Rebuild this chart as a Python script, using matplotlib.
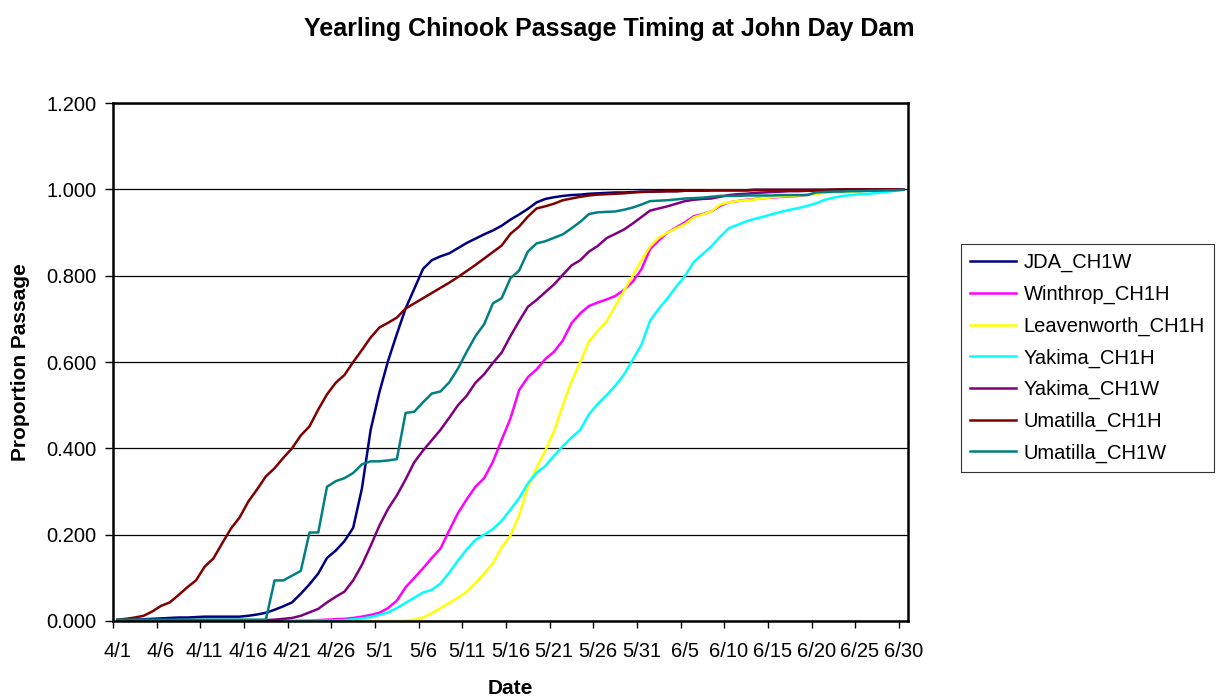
import numpy as np
import pandas as pd
import matplotlib
matplotlib.use('Agg')
import matplotlib.pyplot as plt

plt.rcParams['font.family'] = ['Liberation Sans', 'DejaVu Sans']

# ==========================================
# DATA (daily cumulative proportion, 4/1 - 6/30)
# ==========================================
dates = pd.date_range('2000-04-01', '2000-06-30', freq='D')
date_labels = [f"{d.month}/{d.day}" for d in dates]

jda_ch1w = [
    0.001, 0.002, 0.003, 0.004, 0.005, 0.006, 0.007, 0.008, 0.008, 0.009,
    0.010, 0.010, 0.010, 0.010, 0.010, 0.012, 0.015, 0.019, 0.026, 0.034,
    0.043, 0.063, 0.085, 0.110, 0.146, 0.163, 0.185, 0.216, 0.307, 0.443,
    0.530, 0.603, 0.665, 0.724, 0.770, 0.816, 0.836, 0.845, 0.852, 0.864,
    0.876, 0.886, 0.896, 0.905, 0.916, 0.930, 0.942, 0.955, 0.970, 0.978,
    0.982, 0.985, 0.987, 0.988, 0.990, 0.991, 0.992, 0.993, 0.993, 0.994,
    0.995, 0.995, 0.996, 0.996, 0.996, 0.997, 0.997, 0.997, 0.998, 0.998,
    0.998, 0.998, 0.998, 0.999, 0.999, 0.999, 0.999, 0.999, 0.999, 0.999,
    0.999, 0.999, 0.999, 1.000, 1.000, 1.000, 1.000, 1.000, 1.000, 1.000, 1.000]

winthrop_ch1h = [
    0.000, 0.000, 0.000, 0.000, 0.000, 0.000, 0.000, 0.000, 0.000, 0.000,
    0.000, 0.000, 0.000, 0.000, 0.000, 0.000, 0.000, 0.000, 0.000, 0.000,
    0.000, 0.001, 0.001, 0.002, 0.003, 0.004, 0.005, 0.007, 0.010, 0.014,
    0.019, 0.030, 0.047, 0.078, 0.100, 0.122, 0.146, 0.168, 0.210, 0.250,
    0.282, 0.311, 0.331, 0.369, 0.420, 0.469, 0.535, 0.565, 0.583, 0.607,
    0.624, 0.650, 0.690, 0.713, 0.730, 0.738, 0.745, 0.753, 0.767, 0.786,
    0.815, 0.862, 0.882, 0.900, 0.912, 0.924, 0.938, 0.943, 0.949, 0.962,
    0.970, 0.973, 0.976, 0.978, 0.980, 0.981, 0.983, 0.984, 0.985, 0.988,
    0.991, 0.993, 0.994, 0.995, 0.996, 0.997, 0.998, 0.998, 0.999, 0.999, 1.000]

leavenworth_ch1h = [
    0.000, 0.000, 0.000, 0.000, 0.000, 0.000, 0.000, 0.000, 0.000, 0.000,
    0.000, 0.000, 0.000, 0.000, 0.000, 0.000, 0.000, 0.000, 0.000, 0.000,
    0.000, 0.000, 0.000, 0.000, 0.000, 0.000, 0.000, 0.000, 0.000, 0.000,
    0.000, 0.000, 0.000, 0.001, 0.003, 0.008, 0.018, 0.030, 0.042, 0.054,
    0.068, 0.088, 0.110, 0.134, 0.170, 0.198, 0.245, 0.310, 0.355, 0.395,
    0.440, 0.500, 0.555, 0.600, 0.648, 0.672, 0.694, 0.730, 0.765, 0.800,
    0.836, 0.868, 0.888, 0.900, 0.910, 0.920, 0.935, 0.942, 0.949, 0.965,
    0.970, 0.973, 0.975, 0.977, 0.980, 0.982, 0.984, 0.985, 0.986, 0.988,
    0.990, 0.992, 0.993, 0.994, 0.995, 0.996, 0.997, 0.998, 0.998, 0.999, 1.000]

yakima_ch1h = [
    0.000, 0.000, 0.000, 0.000, 0.000, 0.000, 0.000, 0.000, 0.000, 0.000,
    0.000, 0.000, 0.000, 0.000, 0.000, 0.000, 0.000, 0.000, 0.000, 0.000,
    0.000, 0.000, 0.000, 0.000, 0.000, 0.001, 0.002, 0.004, 0.006, 0.009,
    0.014, 0.020, 0.030, 0.042, 0.054, 0.066, 0.072, 0.087, 0.112, 0.140,
    0.166, 0.188, 0.200, 0.213, 0.232, 0.258, 0.285, 0.319, 0.343, 0.359,
    0.383, 0.405, 0.425, 0.443, 0.479, 0.503, 0.523, 0.545, 0.571, 0.605,
    0.640, 0.696, 0.724, 0.748, 0.775, 0.800, 0.832, 0.850, 0.868, 0.890,
    0.910, 0.918, 0.926, 0.932, 0.937, 0.943, 0.948, 0.953, 0.957, 0.962,
    0.968, 0.976, 0.981, 0.985, 0.987, 0.989, 0.990, 0.992, 0.994, 0.997, 1.000]

yakima_ch1w = [
    0.000, 0.000, 0.000, 0.000, 0.000, 0.000, 0.000, 0.000, 0.000, 0.000,
    0.000, 0.000, 0.001, 0.001, 0.001, 0.001, 0.001, 0.002, 0.003, 0.005,
    0.007, 0.012, 0.020, 0.028, 0.043, 0.056, 0.068, 0.094, 0.130, 0.174,
    0.221, 0.260, 0.291, 0.328, 0.368, 0.395, 0.419, 0.443, 0.471, 0.500,
    0.522, 0.552, 0.572, 0.598, 0.622, 0.660, 0.695, 0.728, 0.744, 0.762,
    0.780, 0.802, 0.824, 0.836, 0.856, 0.869, 0.887, 0.897, 0.907, 0.921,
    0.936, 0.951, 0.956, 0.961, 0.967, 0.973, 0.976, 0.978, 0.979, 0.983,
    0.987, 0.989, 0.990, 0.992, 0.993, 0.994, 0.995, 0.996, 0.996, 0.997,
    0.997, 0.998, 0.998, 0.998, 0.999, 0.999, 0.999, 1.000, 1.000, 1.000, 1.000]

umatilla_ch1h = [
    0.003, 0.005, 0.008, 0.012, 0.022, 0.035, 0.043, 0.060, 0.078, 0.094,
    0.126, 0.145, 0.180, 0.214, 0.240, 0.277, 0.305, 0.335, 0.354, 0.378,
    0.400, 0.430, 0.451, 0.490, 0.525, 0.552, 0.570, 0.600, 0.628, 0.657,
    0.680, 0.691, 0.703, 0.724, 0.736, 0.748, 0.760, 0.772, 0.784, 0.797,
    0.811, 0.825, 0.840, 0.855, 0.870, 0.897, 0.914, 0.937, 0.956, 0.961,
    0.967, 0.975, 0.979, 0.983, 0.986, 0.988, 0.989, 0.990, 0.991, 0.993,
    0.994, 0.995, 0.995, 0.996, 0.996, 0.997, 0.997, 0.997, 0.998, 0.998,
    0.998, 0.998, 0.998, 0.999, 0.999, 0.999, 0.999, 0.999, 0.999, 0.999,
    0.999, 0.999, 1.000, 1.000, 1.000, 1.000, 1.000, 1.000, 1.000, 1.000, 1.000]

umatilla_ch1w = [
    0.003, 0.003, 0.003, 0.003, 0.003, 0.003, 0.003, 0.003, 0.003, 0.003,
    0.003, 0.003, 0.003, 0.003, 0.003, 0.003, 0.003, 0.003, 0.094, 0.094,
    0.105, 0.116, 0.205, 0.205, 0.311, 0.324, 0.331, 0.343, 0.363, 0.370,
    0.370, 0.372, 0.375, 0.482, 0.485, 0.507, 0.527, 0.532, 0.553, 0.585,
    0.624, 0.660, 0.688, 0.736, 0.748, 0.794, 0.812, 0.856, 0.875, 0.880,
    0.888, 0.896, 0.910, 0.925, 0.943, 0.947, 0.948, 0.949, 0.953, 0.958,
    0.965, 0.973, 0.974, 0.975, 0.977, 0.979, 0.980, 0.981, 0.983, 0.985,
    0.985, 0.985, 0.986, 0.986, 0.986, 0.986, 0.987, 0.987, 0.987, 0.987,
    0.993, 0.994, 0.995, 0.995, 0.996, 0.996, 0.997, 0.997, 0.998, 0.998, 0.999]

series = [
    ('JDA_CH1W', jda_ch1w, '#000080'),
    ('Winthrop_CH1H', winthrop_ch1h, '#FF00FF'),
    ('Leavenworth_CH1H', leavenworth_ch1h, '#FFFF00'),
    ('Yakima_CH1H', yakima_ch1h, '#00FFFF'),
    ('Yakima_CH1W', yakima_ch1w, '#800080'),
    ('Umatilla_CH1H', umatilla_ch1h, '#800000'),
    ('Umatilla_CH1W', umatilla_ch1w, '#008080'),
]

# ==========================================
# PLOT
# ==========================================
fig = plt.figure(figsize=(12.19, 6.96), dpi=100)
ax = fig.add_axes([0.0927, 0.1078, 0.652, 0.744])

n = len(dates)
x = np.arange(n) + 0.5  # points centred in each category

for name, vals, col in series:
    ax.plot(x, vals, color=col, linewidth=1.8, label=name)

ax.set_xlim(0, n)
ax.set_ylim(0, 1.2)

# horizontal gridlines
yt = np.arange(0, 1.21, 0.2)
ax.set_yticks(yt)
ax.set_yticklabels([f"{v:.3f}" for v in yt], fontsize=14.5)
ax.yaxis.grid(True, color='black', linewidth=0.9)
ax.set_axisbelow(True)

# category axis: tick marks on boundaries, labels centred on days
ax.set_xticks(np.arange(0, n, 5))
ax.set_xticklabels([])
ax.set_xticks(np.arange(0, n, 5) + 0.5, minor=True)
ax.set_xticklabels(date_labels[::5], minor=True, fontsize=14.5)
ax.tick_params(axis='x', which='minor', length=0, pad=15)
ax.tick_params(axis='x', which='major', length=5, width=1, direction='out')
ax.tick_params(axis='y', length=6, width=1, direction='out', pad=6)

for sp in ax.spines.values():
    sp.set_linewidth(1.8)
    sp.set_color('black')

ax.set_xlabel('Date', fontsize=15, fontweight='bold')
ax.xaxis.set_label_coords(0.5, -0.112)
ax.set_ylabel('Proportion Passage', fontsize=15, fontweight='bold')
ax.yaxis.set_label_coords(-0.105, 0.5)
fig.text(0.5, 0.948, 'Yearling Chinook Passage Timing at John Day Dam',
         ha='center', va='baseline', fontsize=18, fontweight='bold')

leg = fig.legend(loc='upper left', bbox_to_anchor=(0.7884, 0.6494),
                 fontsize=14.5, frameon=True, fancybox=False,
                 handlelength=2.3, handletextpad=0.35, labelspacing=0.62,
                 borderpad=0.45, borderaxespad=0)
leg.get_frame().set_edgecolor('black')
leg.get_frame().set_linewidth(0.8)
for line in leg.get_lines():
    line.set_linewidth(1.8)

plt.savefig('out.png', dpi=100)
plt.close()
